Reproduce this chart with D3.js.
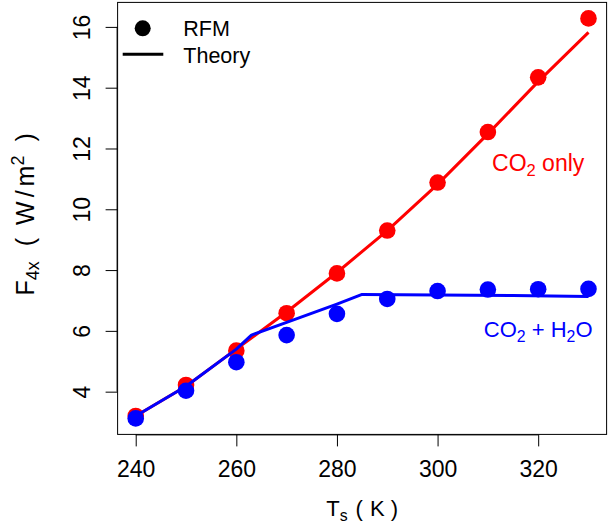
<!DOCTYPE html>
<html>
<head>
<meta charset="utf-8">
<script src="https://cdn.jsdelivr.net/npm/d3@7"></script>
<style>
html,body{margin:0;padding:0;background:#fff;}
svg{display:block;font-family:"Liberation Sans",Arial,Helvetica,sans-serif;}
</style>
</head>
<body>
<svg id="chart" width="611" height="526"></svg>
<script>
// ---- data ----
const temps = [240, 250, 260, 270, 280, 290, 300, 310, 320, 330];
const rfmCO2 = [3.20, 4.22, 5.35, 6.58, 7.89, 9.30, 10.88, 12.54, 14.34, 16.28];
const rfmCO2H2O = [3.12, 4.03, 4.97, 5.86, 6.56, 7.05, 7.31, 7.36, 7.37, 7.38];
const theoryTempsCO2 = [240, 250, 260, 270, 280, 290, 300, 310, 320, 330];
const theoryCO2 = [3.20, 4.18, 5.40, 6.62, 7.92, 9.30, 10.82, 12.48, 14.20, 15.82];
const theoryTempsCO2H2O = [240, 250, 260, 263, 270, 280, 285, 300, 315, 330];
const theoryCO2H2O = [3.20, 4.18, 5.40, 5.86, 6.28, 6.88, 7.20, 7.18, 7.16, 7.13];
const xTicks = [240, 260, 280, 300, 320];
const yTicks = [4, 6, 8, 10, 12, 14, 16];
const legendLabels = ["RFM", "Theory"];
const seriesLabels = [
  {parts: [["CO",""],["2","sub"],[" only",""]], T: 320, v: 11.27, color: "#ff0000"},
  {parts: [["CO",""],["2","sub"],[" + H",""],["2","sub"],["O",""]], T: 320, v: 5.79, color: "#0000ff"}
];

const RED = "#ff0000", BLUE = "#0000ff";
const svg = d3.select("#chart");
const x = d3.scaleLinear().domain([236.4, 333.6]).range([117.6, 606.6]);
const y = d3.scaleLinear().domain([2.594, 16.806]).range([434.4, 2.4]);
const FS = 22, TFS = 23;

// axes
const xAxis = svg.append("g").attr("transform", `translate(0,${y.range()[0]})`)
  .call(d3.axisBottom(x).tickValues(xTicks).tickSize(12).tickFormat(d3.format("d")));
xAxis.select(".domain").attr("d", `M${x(240)},0.5H${x(320)}`).attr("stroke", "#000");
xAxis.selectAll(".tick line").attr("stroke", "#000");
xAxis.selectAll(".tick text").attr("font-size", TFS).attr("fill", "#000").attr("dy", null).attr("y", 42.3);

const yAxis = svg.append("g").attr("transform", `translate(${x.range()[0]},0)`)
  .call(d3.axisLeft(y).tickValues(yTicks).tickSize(12).tickFormat(d3.format("d")));
yAxis.select(".domain").attr("d", `M-0.5,${y(4)}V${y(16)}`).attr("stroke", "#000");
yAxis.selectAll(".tick line").attr("stroke", "#000");
yAxis.selectAll(".tick text")
  .attr("font-size", TFS).attr("fill", "#000")
  .attr("x", null).attr("dy", null)
  .attr("text-anchor", "middle")
  .attr("transform", "translate(-27.3,0) rotate(-90)");

// box
svg.append("rect")
  .attr("x", x.range()[0]).attr("y", y.range()[1])
  .attr("width", x.range()[1] - x.range()[0]).attr("height", y.range()[0] - y.range()[1])
  .attr("fill", "none").attr("stroke", "#000").attr("stroke-width", 1);

const line = d3.line().x(d => x(d[0])).y(d => y(d[1]));
function pts(ts, vs){ return ts.map((t, i) => [t, vs[i]]); }

// red points, red line
svg.append("g").selectAll("circle").data(pts(temps, rfmCO2)).join("circle")
  .attr("cx", d => x(d[0])).attr("cy", d => y(d[1])).attr("r", 8.3).attr("fill", RED);
svg.append("path").datum(pts(theoryTempsCO2, theoryCO2)).attr("d", line)
  .attr("fill", "none").attr("stroke", RED).attr("stroke-width", 3);
// blue points, blue line
svg.append("g").selectAll("circle").data(pts(temps, rfmCO2H2O)).join("circle")
  .attr("cx", d => x(d[0])).attr("cy", d => y(d[1])).attr("r", 8.3).attr("fill", BLUE);
svg.append("path").datum(pts(theoryTempsCO2H2O, theoryCO2H2O)).attr("d", line)
  .attr("fill", "none").attr("stroke", BLUE).attr("stroke-width", 3).attr("stroke-linejoin", "round");

// series labels
seriesLabels.forEach((s, k) => {
  const fs = k === 0 ? 23 : 22;
  const t = svg.append("text").attr("x", x(s.T)).attr("y", y(s.v))
    .attr("text-anchor", "middle").attr("font-size", fs).attr("fill", s.color)
    .attr("xml:space", "preserve");
  s.parts.forEach((p, i) => {
    const ts = t.append("tspan").text(p[0]);
    if (p[1] === "sub") ts.attr("font-size", fs * 0.72).attr("dy", 5);
    else if (i > 0) ts.attr("dy", -5);
  });
});

// legend
const lg = svg.append("g");
lg.append("circle").attr("cx", 142.7).attr("cy", 28.3).attr("r", 8).attr("fill", "#000");
lg.append("line").attr("x1", 122.7).attr("x2", 163.3).attr("y1", 54.3).attr("y2", 54.3)
  .attr("stroke", "#000").attr("stroke-width", 3);
lg.selectAll("text").data(legendLabels).join("text")
  .attr("x", 183.3).attr("y", (d, i) => 36 + i * 26.7)
  .attr("font-size", 21.5).attr("fill", "#000").text(d => d);

// x title
const xt = svg.append("text").attr("x", (x.range()[0] + x.range()[1]) / 2).attr("y", 516)
  .attr("text-anchor", "middle").attr("font-size", FS).attr("fill", "#000");
xt.append("tspan").text("T");
xt.append("tspan").text("s").attr("font-size", FS * 0.72).attr("dy", 5);
xt.append("tspan").text("(").attr("dy", -5).attr("dx", 8);
xt.append("tspan").text("K").attr("dx", 7);
xt.append("tspan").text(")").attr("dx", 6);

// y title
const YFS = 25;
const yt = svg.append("text")
  .attr("transform", `translate(33.8,${(y.range()[0] + y.range()[1]) / 2 - 4}) rotate(-90)`)
  .attr("text-anchor", "middle").attr("font-size", YFS).attr("fill", "#000");
yt.append("tspan").text("F");
yt.append("tspan").text("4x").attr("font-size", YFS * 0.72).attr("dy", 5);
yt.append("tspan").text("(").attr("dy", -5).attr("dx", 15);
yt.append("tspan").text("W").attr("dx", 13);
yt.append("tspan").text("/").attr("dx", 4);
yt.append("tspan").text("m").attr("dx", 4);
yt.append("tspan").text("2").attr("font-size", YFS * 0.72).attr("dy", -10);
yt.append("tspan").text(")").attr("dy", 10).attr("dx", 14);
</script>
</body>
</html>
